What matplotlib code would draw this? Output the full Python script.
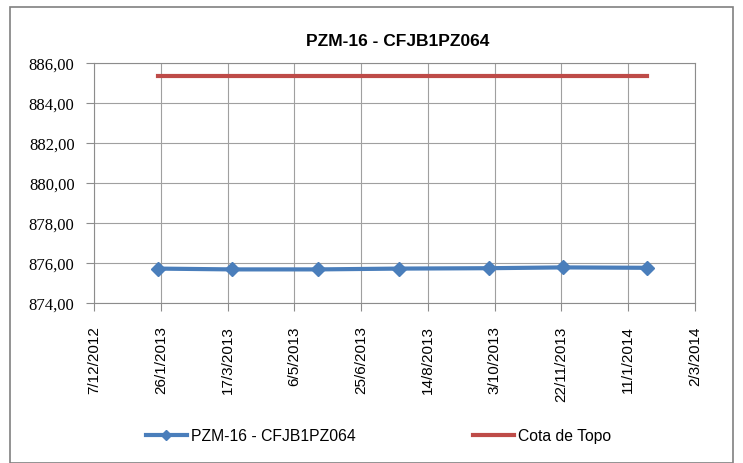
import datetime as dt
import matplotlib
matplotlib.use("Agg")
import matplotlib.pyplot as plt
from matplotlib.patches import Rectangle

# readings of the piezometer
dates = ["2013-01-24", "2013-03-20", "2013-05-24", "2013-07-23",
         "2013-09-29", "2013-11-23", "2014-01-25"]
nivel = [875.72, 875.68, 875.68, 875.72, 875.74, 875.78, 875.76]
cota_topo = [885.35] * len(dates)

tick_start = "2012-12-07"
tick_step_days = 50
n_ticks = 10
y_ticks = [874, 876, 878, 880, 882, 884, 886]

x = [dt.datetime.strptime(d, "%Y-%m-%d") for d in dates]
t0 = dt.datetime.strptime(tick_start, "%Y-%m-%d")
ticks = [t0 + dt.timedelta(days=tick_step_days * i) for i in range(n_ticks)]

fig = plt.figure(figsize=(7.43, 4.64), dpi=100)
ax = fig.add_axes([94 / 743, 1 - 304 / 464, 601 / 743, 240 / 464])

# frame around the whole chart
fig.patches.append(Rectangle((10 / 743, 0.0), 723 / 743, 1 - 8 / 464,
                             transform=fig.transFigure, fill=False,
                             edgecolor="#808080", linewidth=1.2))

ax.plot(x, nivel, color="#4a7ebb", linewidth=3, marker="D", markersize=7,
        label="PZM-16 - CFJB1PZ064")
ax.plot(x, cota_topo, color="#be4b48", linewidth=3, label="Cota de Topo")

ax.set_ylim(874, 886)
ax.set_yticks(y_ticks)
ax.set_yticklabels([("%.2f" % v).replace(".", ",") for v in y_ticks],
                   family="Liberation Serif", fontsize=12)
ax.set_xlim(ticks[0], ticks[-1])
ax.set_xticks(ticks)
ax.set_xticklabels([f"{t.day}/{t.month}/{t.year}" for t in ticks],
                   rotation=90, family="Liberation Sans", fontsize=11)

ax.grid(True, color="#a0a0a0", linewidth=0.8)
ax.set_axisbelow(True)
for s in ax.spines.values():
    s.set_color("#8c8c8c")
ax.tick_params(axis="both", color="#8c8c8c", length=6)
ax.tick_params(axis="x", pad=10)
ax.tick_params(axis="y", pad=8)

fig.text(0.535, 1 - 42 / 464, "PZM-16 - CFJB1PZ064", ha="center", va="center",
         fontsize=12.5, fontweight="bold", family="Liberation Sans")

fig.legend(loc="center left", bbox_to_anchor=(146 / 743, 1 - 437 / 464), ncol=2,
           frameon=False, columnspacing=7.5, handlelength=2.6,
           handletextpad=0.25, borderaxespad=0, borderpad=0, markerscale=0.7,
           prop={"family": "Liberation Sans", "size": 11.3})

fig.savefig("out.png", dpi=100)
